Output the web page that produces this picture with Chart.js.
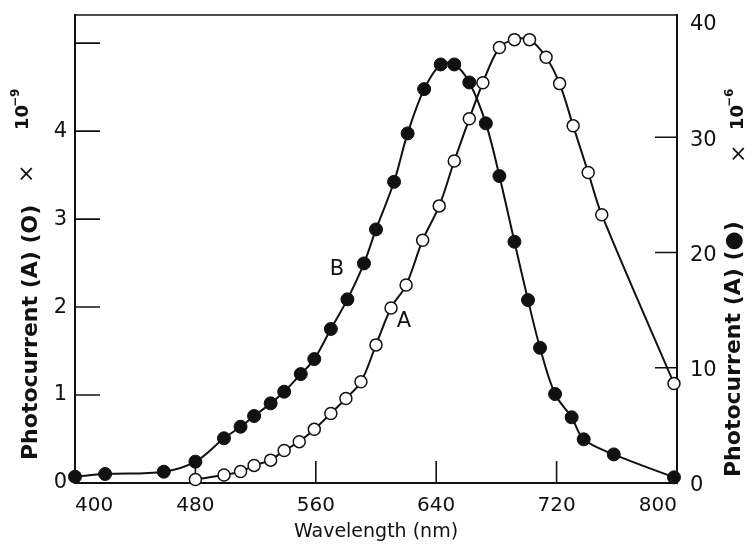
<!DOCTYPE html>
<html>
<head>
<meta charset="utf-8">
<script src="https://cdn.jsdelivr.net/npm/chart.js@4.4.0/dist/chart.umd.min.js"></script>
<style>
html, body { margin: 0; padding: 0; background: #fff; }
#wrap { width: 753px; height: 549px; }
</style>
</head>
<body>
<div id="wrap"><canvas id="chart"></canvas></div>
<script>
// curve A, open circles, left axis (x 10^-9 A)
let wavelengthsA = [480, 499, 510, 519, 530, 539, 549, 559, 570, 580, 590, 600, 610, 620, 631, 642, 652, 662, 671, 682, 692, 702, 713, 722, 731, 741, 750, 798]
let currentA = [0.04, 0.09, 0.13, 0.20, 0.26, 0.37, 0.47, 0.61, 0.79, 0.96, 1.15, 1.57, 1.99, 2.25, 2.76, 3.15, 3.66, 4.14, 4.55, 4.95, 5.04, 5.04, 4.84, 4.54, 4.06, 3.53, 3.05, 1.13]

// curve B, filled dots, right axis (x 10^-6 A)
let wavelengthsB = [400, 420, 459, 480, 499, 510, 519, 530, 539, 550, 559, 570, 581, 592, 600, 612, 621, 632, 643, 652, 662, 673, 682, 692, 701, 709, 719, 730, 738, 758, 798]
let currentB = [0.55, 0.78, 0.98, 1.85, 3.88, 4.88, 5.81, 6.91, 7.92, 9.45, 10.75, 13.36, 15.93, 19.05, 22.0, 26.13, 30.33, 34.17, 36.31, 36.31, 34.75, 31.2, 26.63, 20.93, 15.87, 11.73, 7.72, 5.70, 3.79, 2.48, 0.49]

// axis ticks
let xTicks = [400, 480, 560, 640, 720, 800]
let leftTicks = [0, 1, 2, 3, 4]
let rightTicks = [0, 10, 20, 30, 40]
let xMarks = [480, 560, 640, 720]
let leftMarks = [1, 2, 3, 4, 5]
let rightMarks = [10, 20, 30]

let canvas = document.querySelector('#chart')
let ink = '#111'

function pairs(xs, ys) {
    return xs.map((x, i) => ({ x: x, y: ys[i] }))
}

function drawUp(ctx, text, x, y, font) {
    ctx.save()
    ctx.translate(x, y)
    ctx.rotate(-Math.PI / 2)
    ctx.font = font
    ctx.textAlign = 'left'
    ctx.textBaseline = 'alphabetic'
    ctx.fillText(text, 0, 0)
    ctx.restore()
}

// keep the tick labels from pushing the plot area around
function fixBox(scale, w, h) {
    if (w) scale.width = w
    if (h) scale.height = h
    scale.paddingTop = 0
    scale.paddingBottom = 0
    scale.paddingLeft = 0
    scale.paddingRight = 0
}

// inward tick marks, top frame line, rotated titles and curve names
const extras = {
    id: 'extras',
    beforeDatasetsDraw(chart) {
        const { ctx, chartArea: a, scales } = chart
        ctx.save()
        ctx.strokeStyle = ink
        ctx.lineWidth = 1.6
        ctx.beginPath()
        ctx.moveTo(a.left, a.top)
        ctx.lineTo(a.right, a.top)
        for (let v of xMarks) {
            let x = scales.x.getPixelForValue(v)
            ctx.moveTo(x, a.bottom)
            ctx.lineTo(x, a.bottom - 22)
        }
        for (let v of leftMarks) {
            let y = scales.y.getPixelForValue(v)
            ctx.moveTo(a.left, y)
            ctx.lineTo(a.left + 25, y)
        }
        for (let v of rightMarks) {
            let y = scales.y2.getPixelForValue(v)
            ctx.moveTo(a.right, y)
            ctx.lineTo(a.right - 22, y)
        }
        ctx.stroke()
        ctx.restore()
    },
    afterDraw(chart) {
        const { ctx } = chart
        ctx.save()
        ctx.fillStyle = ink

        drawUp(ctx, 'Photocurrent (A) (O)', 37, 460, 'bold 22px "DejaVu Sans"')
        drawUp(ctx, '×', 33, 183, '22px "DejaVu Sans"')
        drawUp(ctx, '10', 28, 130, 'bold 18px "DejaVu Sans"')
        drawUp(ctx, '−9', 19, 107, 'bold 12px "DejaVu Sans"')

        drawUp(ctx, 'Photocurrent (A) (●)', 740, 477, 'bold 22px "DejaVu Sans"')
        drawUp(ctx, '×', 745, 163, '22px "DejaVu Sans"')
        drawUp(ctx, '10', 743, 130, 'bold 18px "DejaVu Sans"')
        drawUp(ctx, '−6', 733, 107, 'bold 12px "DejaVu Sans"')

        ctx.font = '21px "DejaVu Sans"'
        ctx.textAlign = 'center'
        ctx.textBaseline = 'middle'
        ctx.fillText('B', 337, 270)
        ctx.fillText('A', 404, 322)
        ctx.restore()
    }
}

const data = {
    datasets: [
        {
            label: 'A',
            data: pairs(wavelengthsA, currentA),
            yAxisID: 'y',
            borderColor: ink,
            borderWidth: 2,
            backgroundColor: '#fff',
            pointBackgroundColor: '#fff',
            pointBorderColor: ink,
            pointBorderWidth: 1.5,
            pointRadius: 6,
            tension: 0.35,
            clip: false
        },
        {
            label: 'B',
            data: pairs(wavelengthsB, currentB),
            yAxisID: 'y2',
            borderColor: ink,
            borderWidth: 2,
            backgroundColor: ink,
            pointBackgroundColor: ink,
            pointBorderColor: ink,
            pointBorderWidth: 1,
            pointRadius: 6.5,
            tension: 0.35,
            clip: false
        }
    ]
}

const config = {
    type: 'line',
    data: data,
    options: {
        responsive: true,
        maintainAspectRatio: false,
        animation: false,
        layout: {
            padding: { top: 15, left: 0, right: 0, bottom: 0 }
        },
        plugins: {
            legend: { display: false },
            tooltip: { enabled: false }
        },
        scales: {
            x: {
                type: 'linear',
                min: 400,
                max: 800,
                afterBuildTicks: (scale) => { scale.ticks = xTicks.map(v => ({ value: v })) },
                afterFit: (scale) => fixBox(scale, 0, 66),
                grid: { drawOnChartArea: false, drawTicks: false },
                border: { display: true, color: ink, width: 2 },
                ticks: {
                    align: 'inner',
                    padding: 11,
                    color: ink,
                    font: { family: 'DejaVu Sans', size: 20 }
                },
                title: {
                    display: true,
                    text: 'Wavelength (nm)',
                    color: ink,
                    padding: { top: 0, bottom: 6 },
                    font: { family: 'DejaVu Sans', size: 19 }
                }
            },
            y: {
                type: 'linear',
                position: 'left',
                min: 0,
                max: 5.32,
                afterBuildTicks: (scale) => { scale.ticks = leftTicks.map(v => ({ value: v })) },
                afterFit: (scale) => fixBox(scale, 75, 0),
                grid: { drawOnChartArea: false, drawTicks: false },
                border: { display: true, color: ink, width: 2 },
                ticks: {
                    padding: 8,
                    color: ink,
                    font: { family: 'DejaVu Sans', size: 21 }
                }
            },
            y2: {
                type: 'linear',
                position: 'right',
                min: 0,
                max: 40.6,
                afterBuildTicks: (scale) => { scale.ticks = rightTicks.map(v => ({ value: v })) },
                afterFit: (scale) => fixBox(scale, 76, 0),
                grid: { drawOnChartArea: false, drawTicks: false },
                border: { display: true, color: ink, width: 2 },
                ticks: {
                    padding: 13,
                    labelOffset: 3,
                    color: ink,
                    font: { family: 'DejaVu Sans', size: 21 }
                }
            }
        }
    },
    plugins: [extras]
}

new Chart(canvas, config)
</script>
</body>
</html>
